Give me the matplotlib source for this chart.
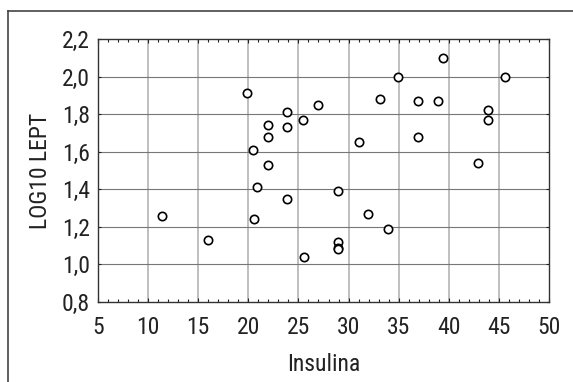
import matplotlib
matplotlib.use("Agg")
import matplotlib.pyplot as plt
from matplotlib.lines import Line2D
from matplotlib.ticker import MultipleLocator, FuncFormatter
from matplotlib import font_manager as fm

insulina = [11.4, 16.0, 19.9, 20.5, 20.6, 20.9, 22.0, 22.0, 22.0, 23.9, 23.9, 23.9,
            25.5, 25.6, 27.0, 28.9, 28.9, 28.9, 28.9, 31.0, 31.9, 33.1, 33.9, 34.9,
            36.9, 36.9, 38.9, 39.4, 42.9, 43.9, 43.9, 45.6]
log10_lept = [1.26, 1.13, 1.91, 1.61, 1.24, 1.41, 1.74, 1.68, 1.53, 1.81, 1.73, 1.35,
              1.77, 1.04, 1.85, 1.39, 1.12, 1.09, 1.08, 1.65, 1.27, 1.88, 1.19, 2.00,
              1.87, 1.68, 1.87, 2.10, 1.54, 1.82, 1.77, 2.00]
x_ticks = [5, 10, 15, 20, 25, 30, 35, 40, 45, 50]
y_ticks = [0.8, 1.0, 1.2, 1.4, 1.6, 1.8, 2.0, 2.2]

# pick a condensed font if one is installed
names = sorted({f.name for f in fm.fontManager.ttflist})
cond = [n for n in names if ('Narrow' in n or 'Condensed' in n)]
pref = ['Liberation Sans Narrow', 'DejaVu Sans Condensed', 'Roboto Condensed',
        'Open Sans Condensed']
chosen = None
for p in pref:
    if p in names:
        chosen = p
        break
if chosen is None and cond:
    chosen = cond[0]
FONT = [chosen, 'DejaVu Sans'] if chosen else ['DejaVu Sans']
plt.rcParams['font.family'] = FONT
FS = 17 if chosen else 13.5

fig = plt.figure(figsize=(5.73, 3.82), dpi=100)
W, H = 573, 382
ax = fig.add_axes([98 / W, 1 - 302 / H, (549 - 98) / W, (302 - 39) / H])

ax.set_xlim(5, 50)
ax.set_ylim(0.8, 2.2)
ax.set_xticks(x_ticks)
ax.set_yticks(y_ticks)
ax.xaxis.set_minor_locator(MultipleLocator(1))
ax.yaxis.set_major_formatter(FuncFormatter(lambda v, p: f"{v:.1f}".replace('.', ',')))
ax.xaxis.set_major_formatter(FuncFormatter(lambda v, p: f"{int(round(v))}"))

for x in x_ticks[1:-1]:
    ax.axvline(x, color='#b4b4b4', lw=1.2, zorder=1)
for y in y_ticks[1:-1]:
    ax.axhline(y, color='#777777', lw=0.8, zorder=1)

ax.scatter(insulina, log10_lept, s=36, facecolors='white', edgecolors='black',
           linewidths=1.2, zorder=3)

ax.tick_params(axis='both', which='both', direction='in', top=True, right=True,
               labelsize=FS, colors='#222222', labelcolor='#222222')
ax.tick_params(axis='x', which='major', length=3, width=0.8, pad=10)
ax.tick_params(axis='x', which='minor', length=2, width=0.8)
ax.tick_params(axis='y', which='major', length=2, width=0.8, pad=6)
for s in ax.spines.values():
    s.set_color('#333333')
    s.set_linewidth(1.0)

ax.set_xlabel('Insulina', fontsize=FS, color='#222222')
ax.set_ylabel('LOG10 LEPT', fontsize=FS, color='#222222')
ax.xaxis.set_label_coords(0.5, (302 - 353) / 263)
ax.yaxis.set_label_coords((52 - 98) / 451, 0.5)

fig.add_artist(Line2D([8 / W, 8 / W], [1 - 11 / H, 0], transform=fig.transFigure,
                      color='#444444', lw=1.2))
fig.add_artist(Line2D([8 / W, 1], [1 - 11 / H, 1 - 11 / H], transform=fig.transFigure,
                      color='#444444', lw=1.2))

fig.savefig('out.png', dpi=100)
